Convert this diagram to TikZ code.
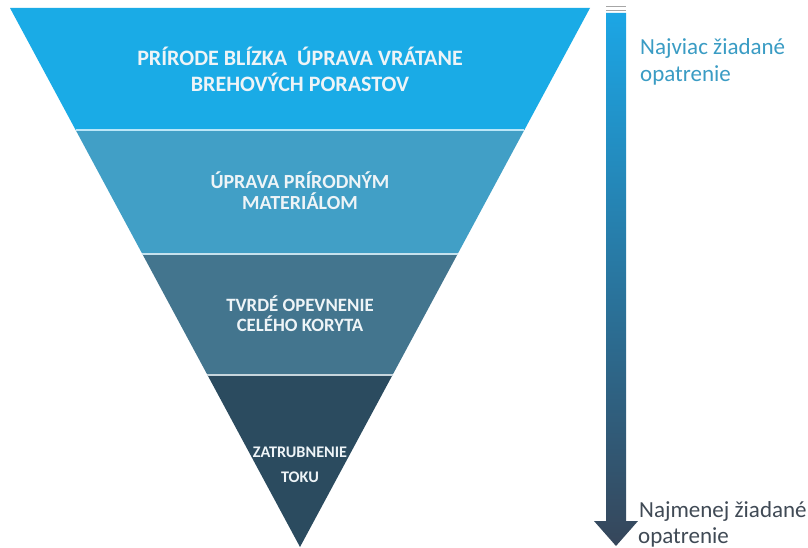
\documentclass[tikz,border=0pt]{standalone}
\usepackage{fontspec}
\setmainfont{Carlito}
\usetikzlibrary{calc}
\definecolor{layA}{HTML}{1AABE6}
\definecolor{layB}{HTML}{419FC6}
\definecolor{layC}{HTML}{43758E}
\definecolor{layD}{HTML}{2B4B5F}
\definecolor{txtW}{HTML}{EEF4F7}
\definecolor{topTxt}{HTML}{3A9CC4}
\definecolor{botTxt}{HTML}{404A55}
\definecolor{arrTop}{HTML}{1CA6E5}
\definecolor{arrMid}{HTML}{7090BA}
\definecolor{arrBot}{HTML}{36465A}
\tikzset{
  laytext/.style={text=txtW, font=\bfseries, align=center, inner sep=0pt},
  sidetext/.style={anchor=base west, inner sep=0pt, font=\fontsize{23}{27}\selectfont},
}
\begin{document}
\begin{tikzpicture}[x=1pt,y=-1pt]
\useasboundingbox[fill=white] (0,0) rectangle (808,548);
\coordinate (A) at (10,8);
\coordinate (B) at (590,8);
\coordinate (C) at (300,547);
\coordinate (L1) at ($(A)!0.2263!(C)$);
\coordinate (R1) at ($(B)!0.2263!(C)$);
\coordinate (L2) at ($(A)!0.4564!(C)$);
\coordinate (R2) at ($(B)!0.4564!(C)$);
\coordinate (L3) at ($(A)!0.6809!(C)$);
\coordinate (R3) at ($(B)!0.6809!(C)$);
% layers
\fill[layA] (A) -- (B) -- (R1) -- (L1) -- cycle;
\fill[layB] (L1) -- (R1) -- (R2) -- (L2) -- cycle;
\fill[layC] (L2) -- (R2) -- (R3) -- (L3) -- cycle;
\fill[layD] (L3) -- (R3) -- (C) -- cycle;
\draw[white!70!layA, line width=1.2pt] (L1) -- (R1);
\draw[white!70!layB, line width=1.2pt] (L2) -- (R2);
\draw[white!70!layC, line width=1.2pt] (L3) -- (R3);
% texts
\node[laytext, font=\bfseries\fontsize{22}{25.5}\selectfont] (t1) at (300,69.5)
  {PRÍRODE BLÍZKA\ \ ÚPRAVA VRÁTANE\\BREHOVÝCH PORASTOV};
\node[laytext, font=\bfseries\fontsize{20}{21.5}\selectfont] (t2) at (300,190.5)
  {ÚPRAVA PRÍRODNÝM\\MATERIÁLOM};
\node[laytext, font=\bfseries\fontsize{18.8}{20.5}\selectfont] (t3) at (300,313.5)
  {TVRDÉ OPEVNENIE\\CELÉHO KORYTA};
\node[laytext, font=\bfseries\fontsize{16.2}{25}\selectfont] (t4) at (300,465)
  {ZATRUBNENIE\\TOKU};
% arrow
\draw[gray!70, line width=1pt] (606,7) -- (626,7);
\draw[gray!70, line width=1pt] (606,10.5) -- (626,10.5);
\shade[top color=arrTop, middle color=arrMid, bottom color=arrBot]
  (606,13) -- (626,13) -- (626,521) -- (638,521) -- (616,546) -- (594,521) -- (606,521) -- cycle;
% side texts
\node[sidetext, text=topTxt] (n1) at (640,55) {Najviac žiadané};
\node[sidetext, text=topTxt] (n2) at (640,82) {opatrenie};
\node[sidetext, text=botTxt] (n3) at (639,517) {Najmenej žiadané};
\node[sidetext, text=botTxt] (n4) at (638,543) {opatrenie};
\end{tikzpicture}
\end{document}
